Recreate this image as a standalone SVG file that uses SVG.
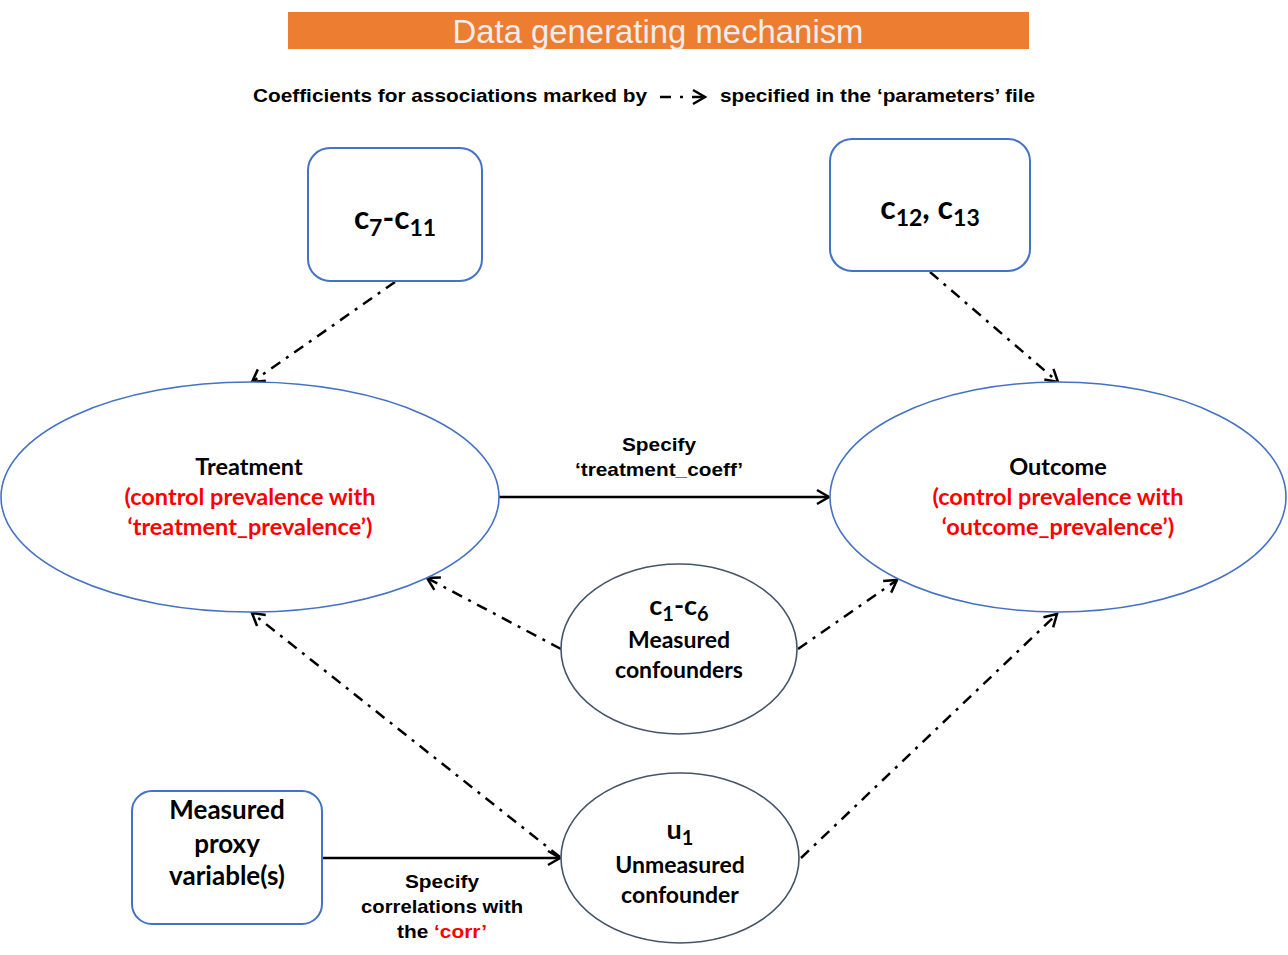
<svg xmlns="http://www.w3.org/2000/svg" width="1288" height="955" viewBox="0 0 1288 955">
<style>
.box{fill:#fff;stroke:#4472C4;stroke-width:2}
.ell{fill:#fff;stroke:#4472C4;stroke-width:1.6}
.ell2{fill:#fff;stroke:#44546A;stroke-width:1.6}
.nt{font-family:Lato,"Noto Sans",sans-serif;font-weight:bold;text-anchor:middle;fill:#000}
.red{fill:#FF0000}
.lab{font-family:"Liberation Sans",Arial,sans-serif;font-weight:bold;font-size:19px;text-anchor:middle;fill:#000}
.dd{fill:none;stroke:#000;stroke-width:2.5;stroke-dasharray:11 7 3 7}
.solid{fill:none;stroke:#000;stroke-width:2.5}
</style>
<defs>
<marker id="ah" markerUnits="userSpaceOnUse" markerWidth="20" markerHeight="20" viewBox="0 0 20 20" refX="17" refY="10" orient="auto">
<path d="M5,3 L17,10 L5,17" fill="none" stroke="#000" stroke-width="2.5"/>
</marker>
</defs>
<rect width="1288" height="955" fill="#fff"/>
<g id="title">
<rect x="288" y="12" width="741" height="37" fill="#ED7D31"/>
<text x="658" y="43" font-family="'Liberation Sans',Arial,sans-serif" font-size="33" fill="#EDEDED" text-anchor="middle" textLength="411" lengthAdjust="spacingAndGlyphs">Data generating mechanism</text>
</g>
<g id="legend">
<text x="253" y="102" font-family="'Liberation Sans',Arial,sans-serif" font-weight="bold" font-size="19" textLength="394" lengthAdjust="spacingAndGlyphs">Coefficients for associations marked by</text>
<line x1="660" y1="97" x2="705" y2="97" stroke="#000" stroke-width="2.5" stroke-dasharray="11 9 3 9" marker-end="url(#ah)"/>
<text x="720" y="102" font-family="'Liberation Sans',Arial,sans-serif" font-weight="bold" font-size="19" textLength="315" lengthAdjust="spacingAndGlyphs">specified in the ‘parameters’ file</text>
</g>
<g id="connectors">
<line class="dd" x1="395" y1="282" x2="252" y2="382" marker-end="url(#ah)"/>
<line class="dd" x1="930" y1="272" x2="1058" y2="382" marker-end="url(#ah)"/>
<line class="solid" x1="499" y1="497" x2="829" y2="497" marker-end="url(#ah)"/>
<line class="dd" x1="561" y1="649" x2="427" y2="578" marker-end="url(#ah)"/>
<line class="dd" x1="798" y1="649" x2="897" y2="580" marker-end="url(#ah)"/>
<line class="dd" x1="560" y1="857" x2="252" y2="613" marker-end="url(#ah)"/>
<line class="dd" x1="801" y1="858" x2="1057" y2="614" marker-end="url(#ah)"/>
<line class="solid" x1="322" y1="858" x2="560" y2="858" marker-end="url(#ah)"/>
<text class="lab" x="659" y="451" textLength="74" lengthAdjust="spacingAndGlyphs">Specify</text>
<text class="lab red" x="659" y="476" textLength="168" lengthAdjust="spacingAndGlyphs">‘treatment_coeff’</text>
<text class="lab" x="442" y="888" textLength="74" lengthAdjust="spacingAndGlyphs">Specify</text>
<text class="lab" x="442" y="913" textLength="162" lengthAdjust="spacingAndGlyphs">correlations with</text>
<text class="lab" x="442" y="938" textLength="90" lengthAdjust="spacingAndGlyphs">the <tspan class="red">‘corr’</tspan></text>
</g>
<g id="c7-c11">
<rect class="box" x="308" y="148" width="174" height="133" rx="22"/>
<text class="nt" x="395" y="229" font-size="31.5">c<tspan font-size="23" dy="7">7</tspan><tspan dy="-7">-c</tspan><tspan font-size="23" dy="7">11</tspan></text>
</g>
<g id="c12-c13">
<rect class="box" x="830" y="139" width="200" height="132" rx="22"/>
<text class="nt" x="930" y="219" font-size="32">c<tspan font-size="23" dy="7">12</tspan><tspan dy="-7">, c</tspan><tspan font-size="23" dy="7">13</tspan></text>
</g>
<g id="treatment">
<ellipse class="ell" cx="250" cy="497" rx="249" ry="115"/>
<text class="nt" x="249" y="475" font-size="23.5">Treatment</text>
<text class="nt red" x="250" y="505" font-size="23.5">(control prevalence with</text>
<text class="nt red" x="250" y="535" font-size="23.5">‘treatment_prevalence’)</text>
</g>
<g id="outcome">
<ellipse class="ell" cx="1058" cy="497" rx="228" ry="115"/>
<text class="nt" x="1058" y="475" font-size="23.5">Outcome</text>
<text class="nt red" x="1058" y="505" font-size="23.5">(control prevalence with</text>
<text class="nt red" x="1058" y="535" font-size="23.5">‘outcome_prevalence’)</text>
</g>
<g id="measured-confounders">
<ellipse class="ell2" cx="679" cy="649" rx="118" ry="85"/>
<text class="nt" x="679" y="615" font-size="27">c<tspan font-size="20" dy="6">1</tspan><tspan dy="-6">-c</tspan><tspan font-size="20" dy="6">6</tspan></text>
<text class="nt" x="679" y="648" font-size="23">Measured</text>
<text class="nt" x="679" y="678" font-size="23">confounders</text>
</g>
<g id="unmeasured-confounder">
<ellipse class="ell2" cx="680" cy="858" rx="119" ry="85"/>
<text class="nt" x="680" y="839" font-size="27">u<tspan font-size="20" dy="6">1</tspan></text>
<text class="nt" x="680" y="873" font-size="23">Unmeasured</text>
<text class="nt" x="680" y="903" font-size="23">confounder</text>
</g>
<g id="proxy">
<rect class="box" x="132" y="791" width="190" height="133" rx="20"/>
<text class="nt" x="227" y="819" font-size="26">Measured</text>
<text class="nt" x="227" y="853" font-size="26">proxy</text>
<text class="nt" x="227" y="885" font-size="26">variable(s)</text>
</g>
</svg>
